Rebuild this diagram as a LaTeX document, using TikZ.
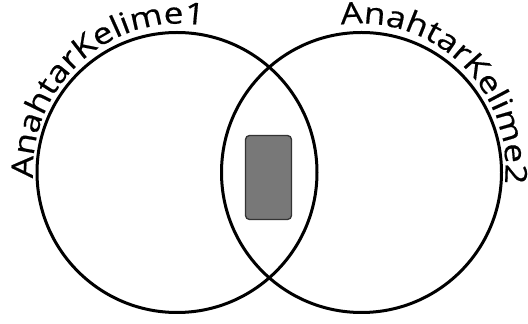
\documentclass[tikz,border=0pt]{standalone}
\usepackage{fontspec}
\setmainfont{Open Sans}
\newfontface\lblface{Open Sans}[FakeStretch=1.17, FakeBold=0.5]
\usetikzlibrary{decorations.text}
\newcommand\lblfont{\lblface\fontsize{30}{36}\selectfont}
\tikzset{
  set/.style={circle, draw=black, line width=3pt, minimum size=280pt, inner sep=0pt},
  common/.style={draw=black!80, fill=black!53, line width=1.3pt, rounded corners=4pt,
    minimum width=46pt, minimum height=84pt, inner sep=0pt},
}
\begin{document}
\begin{tikzpicture}[x=1pt,y=1pt]
\useasboundingbox (0,0) rectangle (528,324);
\node[set] (c1) at (177,151.5) {};
\node[set] (c2) at (361.5,151.5) {};
\node[common] (r) at (268.5,146.5) {};
\coordinate (t1) at (180,153.4);
\coordinate (t2) at (360,155);
\path[decorate, decoration={text along path, text align=left,
  text={|\lblfont|AnahtarKelime1}}]
  (t1) ++(183:147) arc[start angle=183, end angle=40, radius=147];
\path[decorate, decoration={text along path, text align=left,
  text={|\lblfont|AnahtarKelime2}}]
  (t2) ++(97.5:145.5) arc[start angle=97.5, end angle=-45, radius=145.5];
\end{tikzpicture}
\end{document}
